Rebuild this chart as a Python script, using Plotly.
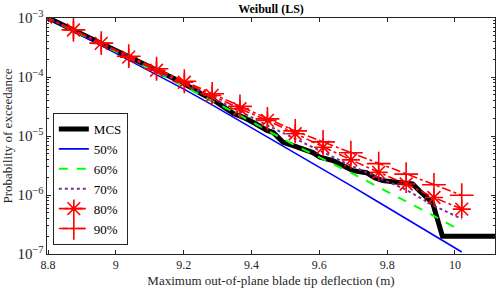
import plotly.graph_objects as go

# fitted-curve grid (m)
x_fit = [8.793, 8.875, 8.957, 9.038, 9.120, 9.202, 9.284, 9.366,
         9.447, 9.529, 9.611, 9.693, 9.775, 9.856, 9.938, 10.020]

p50 = [1.04e-3, 6.01e-4, 3.40e-4, 1.93e-4, 1.09e-4, 6.18e-5, 3.37e-5, 1.80e-5,
       9.62e-6, 5.04e-6, 2.69e-6, 1.44e-6, 7.53e-7, 3.94e-7, 2.07e-7, 1.08e-7]
p60 = [1.04e-3, 6.12e-4, 3.54e-4, 2.09e-4, 1.20e-4, 6.96e-5, 3.94e-5, 2.23e-5,
       1.24e-5, 6.89e-6, 4.06e-6, 2.39e-6, 1.35e-6, 7.83e-7, 4.44e-7, 2.42e-7]
p70 = [1.04e-3, 6.25e-4, 3.68e-4, 2.17e-4, 1.28e-4, 7.53e-5, 4.43e-5, 2.61e-5,
       1.51e-5, 8.89e-6, 5.35e-6, 3.15e-6, 1.97e-6, 1.23e-6, 6.56e-7, 3.94e-7]
p80 = [1.04e-3, 6.25e-4, 3.71e-4, 2.17e-4, 1.30e-4, 8.14e-5, 4.89e-5, 2.90e-5,
       1.84e-5, 1.09e-5, 6.45e-6, 3.94e-6, 2.42e-6, 1.54e-6, 9.08e-7, 5.77e-7]
p90 = [1.04e-3, 6.30e-4, 3.75e-4, 2.25e-4, 1.38e-4, 8.47e-5, 5.19e-5, 3.18e-5,
       1.95e-5, 1.22e-5, 7.94e-6, 5.20e-6, 3.40e-6, 2.26e-6, 1.49e-6, 9.90e-7]

# Monte Carlo empirical exceedance
x_mcs = [8.795, 8.874, 8.956, 9.039, 9.118, 9.200, 9.250, 9.294, 9.347, 9.376,
         9.411, 9.446, 9.464, 9.493, 9.523, 9.563, 9.581, 9.602, 9.640, 9.669,
         9.699, 9.739, 9.763, 9.787, 9.828, 9.875, 9.895, 9.925, 9.934, 9.963, 10.118]
p_mcs = [1.04e-3, 6.25e-4, 3.75e-4, 2.25e-4, 1.36e-4, 7.83e-5, 5.28e-5, 3.86e-5, 2.41e-5, 2.07e-5,
         1.63e-5, 1.24e-5, 1.15e-5, 7.84e-6, 6.89e-6, 5.66e-6, 5.24e-6, 4.36e-6, 3.83e-6, 3.15e-6,
         2.59e-6, 2.39e-6, 1.97e-6, 1.75e-6, 1.64e-6, 1.54e-6, 1.18e-6, 7.98e-7, 7.38e-7, 2.0e-7, 2.0e-7]

x_tickvals = [8.8, 9.0, 9.2, 9.4, 9.6, 9.8, 10.0]
x_ticktext = ["8.8", "9", "9.2", "9.4", "9.6", "9.8", "10"]

FONT = "Liberation Serif, Times New Roman, serif"
RED = "#FF0000"

fig = go.Figure()
fig.add_trace(go.Scatter(x=x_mcs, y=p_mcs, mode="lines", name="MCS",
                         line=dict(color="black", width=5)))
fig.add_trace(go.Scatter(x=x_fit, y=p50, mode="lines", name="50%",
                         line=dict(color="#0000FF", width=1.6)))
fig.add_trace(go.Scatter(x=x_fit, y=p60, mode="lines", name="60%",
                         line=dict(color="#00FF00", width=2, dash="dash")))
fig.add_trace(go.Scatter(x=x_fit, y=p70, mode="lines", name="70%",
                         line=dict(color="#7E2F8E", width=2, dash="dot")))
fig.add_trace(go.Scatter(x=x_fit, y=p80, mode="lines+markers", name="80%",
                         line=dict(color=RED, width=1.6, dash="dashdot"),
                         marker=dict(symbol="asterisk-open", size=15, color=RED,
                                     line=dict(color=RED, width=1.6))))
fig.add_trace(go.Scatter(x=x_fit, y=p90, mode="lines+markers", name="90%",
                         line=dict(color=RED, width=1.6, dash="dashdot"),
                         marker=dict(symbol="cross-thin-open", size=17, color=RED,
                                     line=dict(color=RED, width=1.6))))

axis_common = dict(showline=True, linecolor="#262626", linewidth=1, mirror="ticks",
                   ticks="inside", tickcolor="#262626", showgrid=False, zeroline=False,
                   tickfont=dict(family=FONT, size=12, color="#262626"))

fig.update_xaxes(range=[8.797, 10.118], tickvals=x_tickvals, ticktext=x_ticktext,
                 ticklen=4,
                 title=dict(text="Maximum out-of-plane blade tip deflection (m)",
                            font=dict(family=FONT, size=13, color="#262626"), standoff=4),
                 **axis_common)
fig.update_yaxes(type="log", range=[-7, -3], dtick=1, exponentformat="power",
                 ticklen=4,
                 minor=dict(ticks="inside", ticklen=2, tickcolor="#262626", showgrid=False),
                 title=dict(text="Probability of exceedance",
                            font=dict(family=FONT, size=13, color="#262626"), standoff=4),
                 **axis_common)

fig.update_layout(
    width=500, height=292,
    margin=dict(l=46, r=4, t=18, b=38),
    paper_bgcolor="white", plot_bgcolor="white",
    title=dict(text="<b>Weibull (LS)</b>", x=0.542, xanchor="center", y=0.985, yanchor="top",
               font=dict(family=FONT, size=12, color="black")),
    legend=dict(x=0.013, y=0.038, xanchor="left", yanchor="bottom",
                bordercolor="#262626", borderwidth=1, bgcolor="white",
                font=dict(family=FONT, size=13, color="black"),
                tracegroupgap=0, itemwidth=30),
    showlegend=True,
)

fig.write_html("out.html", config={"displayModeBar": False},
               post_script="document.body.style.margin='0px';")
